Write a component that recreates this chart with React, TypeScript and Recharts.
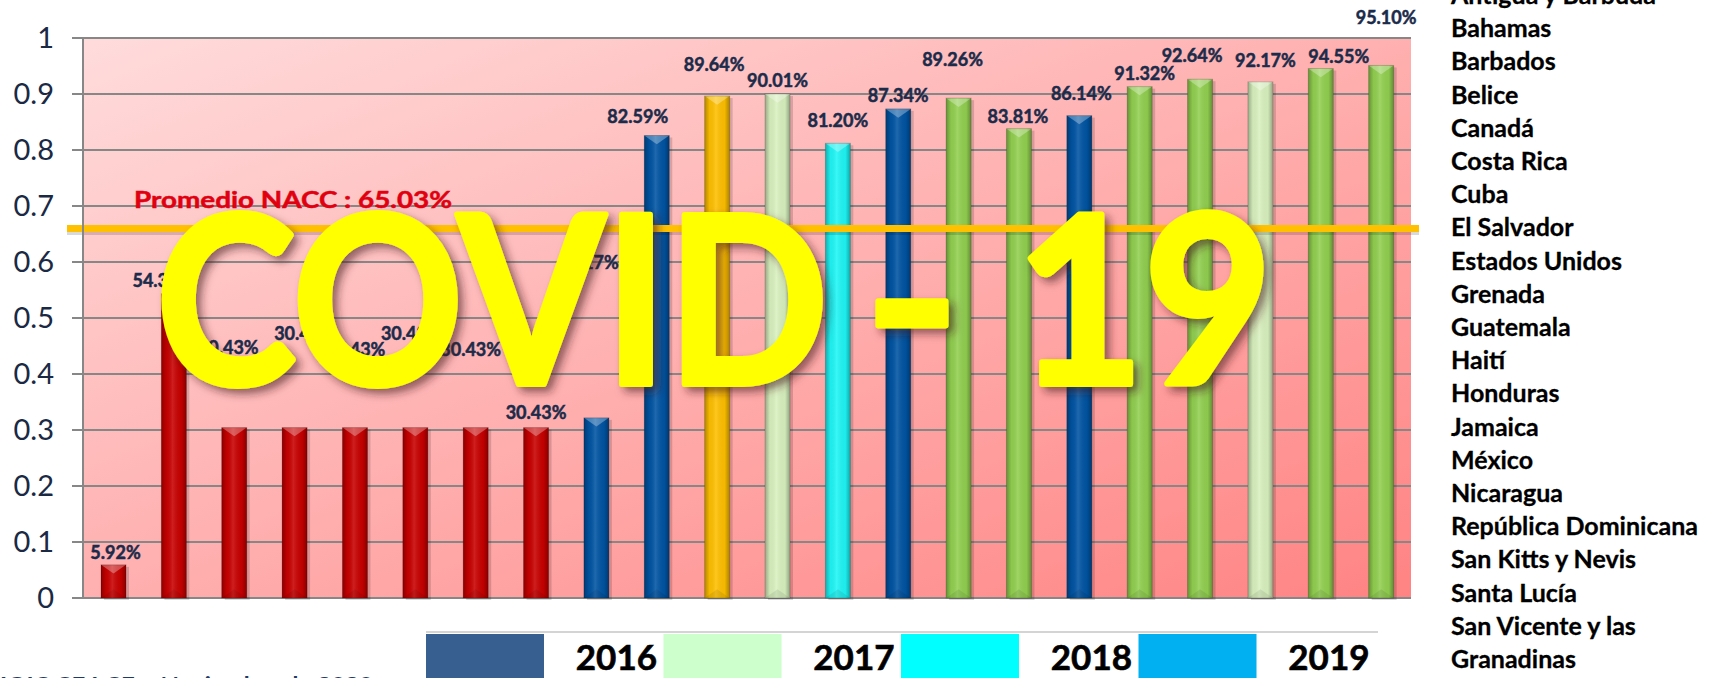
import { BarChart, Bar, XAxis, YAxis, CartesianGrid, Cell, LabelList, ReferenceLine } from "recharts";

// 22 Estados, cumplimiento (fracción 0-1)
const estados = [
  "E01", "E02", "E03", "E04", "E05", "E06", "E07", "E08", "E09", "E10", "E11",
  "E12", "E13", "E14", "E15", "E16", "E17", "E18", "E19", "E20", "E21", "E22",
];
const cumplimiento = [
  0.0592, 0.5435, 0.3043, 0.3043, 0.3043, 0.3043, 0.3043, 0.3043, 0.3217, 0.8259, 0.8964,
  0.9001, 0.812, 0.8734, 0.8926, 0.8381, 0.8614, 0.9132, 0.9264, 0.9217, 0.9455, 0.951,
];
const grupo = [
  "rojo", "rojo", "rojo", "rojo", "rojo", "rojo", "rojo", "rojo", "azul", "azul", "naranja",
  "verdeClaro", "cian", "azul", "verde", "verde", "azul", "verde", "verde", "verdeClaro", "verde", "verde",
];
const promedioTexto = "Promedio NACC : 65.03%";
const lineaPromedio = 0.66; // como está dibujada
const yTicks = [0, 0.1, 0.2, 0.3, 0.4, 0.5, 0.6, 0.7, 0.8, 0.9, 1];
const anios = ["2016", "2017", "2018", "2019"];
const paises = [
  "Antigua y Barbuda", "Bahamas", "Barbados", "Belice", "Canadá", "Costa Rica", "Cuba",
  "El Salvador", "Estados Unidos", "Grenada", "Guatemala", "Haití", "Honduras", "Jamaica",
  "México", "Nicaragua", "República Dominicana", "San Kitts y Nevis", "Santa Lucía",
  "San Vicente y las", "Granadinas",
];

const colores: Record<string, string> = {
  rojo: "#c80000",
  azul: "#0054a3",
  naranja: "#ffc000",
  verdeClaro: "#d9f1bf",
  cian: "#1ff6f6",
  verde: "#92d050",
};
const coloresAnio = ["#375f8f", "#ccffcc", "#00ffff", "#00b0f0"];

// etiquetas movidas a mano en el original
const etiquetaAlto = [12, 13, 80, 94, 78, 94, 78, 15, 155, 19, 31, 13, 23, 13, 39, 12, 22, 13, 24, 21, 12, 48];
const etiquetaDx = [2, -11, -6, 10, 0, -4, -5, 0, -8, -19, -3, 0, 0, 0, -6, -1, 2, 5, -8, 5, 18, 5];

const BarraBisel = (props: any) => {
  const { x, y, width, height, fill } = props;
  if (!height || height <= 0) return null;
  const t = width * 0.5;
  return (
    <g>
      <rect x={x + 3} y={y + 2} width={width} height={height} fill="#000" fillOpacity={0.15} />
      <rect x={x} y={y} width={width} height={height} fill={fill} />
      <rect x={x} y={y} width={width} height={height} fill="url(#brillo)" />
      <polygon points={`${x},${y} ${x + width},${y} ${x + width / 2},${y + t * 0.7}`} fill="#fff" fillOpacity={0.3} />
      <polygon
        points={`${x},${y + height} ${x + width},${y + height} ${x + width / 2},${y + height - t * 0.7}`}
        fill="#000"
        fillOpacity={0.08}
      />
      <rect x={x} y={y} width={width} height={height} fill="none" stroke="#000" strokeOpacity={0.18} />
    </g>
  );
};

const Etiqueta = (props: any) => {
  const { x, y, width, value, index } = props;
  return (
    <text
      x={x + width / 2 + etiquetaDx[index]}
      y={y - etiquetaAlto[index]}
      dy="0.36em"
      textAnchor="middle"
      fontFamily="Lato"
      fontWeight={700}
      fontSize={18}
      fill="#1b2b4a"
      stroke="#1b2b4a"
      strokeWidth={0.5}
    >
      {(value * 100).toFixed(2)}%
    </text>
  );
};

const LineaPromedio = (props: any) => (
  <g>
    <line x1={props.x1 - 16} y1={props.y1 + 3} x2={props.x2 + 8} y2={props.y2 + 3} stroke="#000" strokeOpacity={0.15} strokeWidth={7} />
    <line x1={props.x1 - 16} y1={props.y1} x2={props.x2 + 8} y2={props.y2} stroke="#ffc000" strokeWidth={7} />
  </g>
);

const covidEstilo = {
  fontFamily: "Lato",
  fontWeight: 700,
  fontSize: 234,
  fill: "#ffff00",
  stroke: "#ffff00",
  strokeWidth: 6,
  strokeLinejoin: "round" as const,
  lengthAdjust: "spacingAndGlyphs",
  filter: "url(#sombra)",
};

export default function App() {
  const data = estados.map((e, i) => ({ estado: e, valor: cumplimiento[i] }));

  return (
    <div
      style={{
        position: "absolute",
        left: 0,
        top: 0,
        width: 1711,
        height: 678,
        overflow: "hidden",
        background: "#fff",
        fontFamily: "Lato, sans-serif",
      }}
    >
      <BarChart width={1711} height={678} data={data} margin={{ top: 38, right: 300, bottom: 80, left: 0 }} barSize={25}>
        <defs>
          <linearGradient id="fondo" x1="0" y1="0" x2="1" y2="1">
            <stop offset="0%" stopColor="#ffdcdc" />
            <stop offset="100%" stopColor="#ff8383" />
          </linearGradient>
          <linearGradient id="brillo" x1="0" y1="0" x2="1" y2="0">
            <stop offset="0%" stopColor="#000" stopOpacity={0.3} />
            <stop offset="20%" stopColor="#000" stopOpacity={0.04} />
            <stop offset="45%" stopColor="#fff" stopOpacity={0.12} />
            <stop offset="80%" stopColor="#000" stopOpacity={0.04} />
            <stop offset="100%" stopColor="#000" stopOpacity={0.32} />
          </linearGradient>
        </defs>
        <CartesianGrid vertical={false} stroke="#878787" strokeWidth={2} fill="url(#fondo)" fillOpacity={1} />
        <XAxis dataKey="estado" hide />
        <YAxis
          domain={[0, 1]}
          ticks={yTicks}
          width={83}
          tickSize={11}
          tickMargin={18}
          axisLine={{ stroke: "#878787", strokeWidth: 2 }}
          tickLine={{ stroke: "#878787", strokeWidth: 2 }}
          tick={{ fill: "#1a2944", fontSize: 29, fontFamily: "Lato" }}
        />
        <Bar dataKey="valor" isAnimationActive={false} shape={BarraBisel}>
          {data.map((d, i) => (
            <Cell key={d.estado} fill={colores[grupo[i]]} />
          ))}
          <LabelList dataKey="valor" content={Etiqueta} />
        </Bar>
        <ReferenceLine y={lineaPromedio} stroke="#ffc000" strokeWidth={7} shape={LineaPromedio} />
      </BarChart>

      <svg width={1711} height={678} style={{ position: "absolute", left: 0, top: 0, pointerEvents: "none" }}>
        <defs>
          <filter id="sombra" x="-10%" y="-20%" width="120%" height="140%">
            <feDropShadow dx={5} dy={5} stdDeviation={4} floodColor="#4a2020" floodOpacity={0.6} />
          </filter>
        </defs>
        <text x={134} y={208} fontFamily="Lato" fontWeight={700} fontSize={23} fill="#e00010" stroke="#e00010" strokeWidth={0.5} textLength={318} lengthAdjust="spacingAndGlyphs">
          {promedioTexto}
        </text>
        <text x={156} y={384} textLength={672} {...covidEstilo}>
          COVID
        </text>
        <text x={864} y={384} textLength={96} {...covidEstilo}>
          -
        </text>
        <text x={1016} y={384} textLength={256} {...covidEstilo}>
          19
        </text>

        {paises.map((p, i) => (
          <text key={p} x={1451} y={4 + i * 33.2} fontFamily="Lato" fontWeight={700} fontSize={25} fill="#000" stroke="#000" strokeWidth={0.3}>
            {p}
          </text>
        ))}

        <line x1={426} y1={632} x2={1378} y2={632} stroke="#d4d4d4" strokeWidth={2} />
        {anios.map((a, i) => (
          <g key={a}>
            <rect x={426 + i * 237.5} y={634} width={118} height={50} fill={coloresAnio[i]} />
            <text x={426 + i * 237.5 + 231} y={670} textAnchor="end" fontFamily="Lato" fontWeight={700} fontSize={35} fill="#000" stroke="#000" strokeWidth={0.6}>
              {a}
            </text>
          </g>
        ))}

        <text x={0} y={692} fontFamily="Lato" fontWeight={700} fontSize={20} fill="#1f3864" textLength={373} lengthAdjust="spacingAndGlyphs">
          IOIC CE4 CE – Noviembre de 2020
        </text>
      </svg>
    </div>
  );
}
